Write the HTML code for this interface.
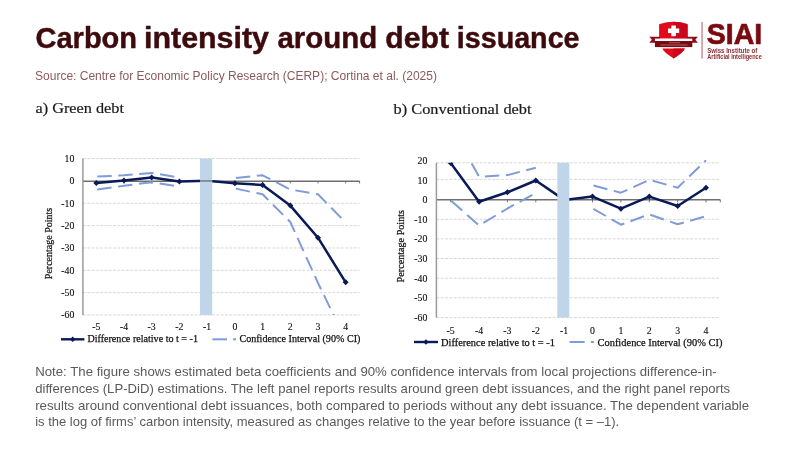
<!DOCTYPE html><html><head><meta charset="utf-8"><title>Carbon intensity around debt issuance</title><style>html,body{margin:0;padding:0;background:#fff;width:800px;height:450px;overflow:hidden}svg{display:block;will-change:transform}</style></head><body>
<svg width="800" height="450" viewBox="0 0 800 450">
<rect width="800" height="450" fill="#fff"/>
<text x="35.5" y="48" font-family='"Liberation Sans", sans-serif' font-weight="bold" font-size="30" fill="#3d0b0d" stroke="#3d0b0d" stroke-width="0.45" textLength="101.57" lengthAdjust="spacingAndGlyphs">Carbon</text>
<text x="144.0" y="48" font-family='"Liberation Sans", sans-serif' font-weight="bold" font-size="30" fill="#3d0b0d" stroke="#3d0b0d" stroke-width="0.45" textLength="125.01" lengthAdjust="spacingAndGlyphs">intensity</text>
<text x="277.5" y="48" font-family='"Liberation Sans", sans-serif' font-weight="bold" font-size="30" fill="#3d0b0d" stroke="#3d0b0d" stroke-width="0.45" textLength="99.78" lengthAdjust="spacingAndGlyphs">around</text>
<text x="385.25" y="48" font-family='"Liberation Sans", sans-serif' font-weight="bold" font-size="30" fill="#3d0b0d" stroke="#3d0b0d" stroke-width="0.45" textLength="63.77" lengthAdjust="spacingAndGlyphs">debt</text>
<text x="456.75" y="48" font-family='"Liberation Sans", sans-serif' font-weight="bold" font-size="30" fill="#3d0b0d" stroke="#3d0b0d" stroke-width="0.45" textLength="122.81" lengthAdjust="spacingAndGlyphs">issuance</text>
<text x="35" y="79.5" font-family='"Liberation Sans", sans-serif' font-size="12" fill="#8b5a5c" textLength="402" lengthAdjust="spacingAndGlyphs">Source: Centre for Economic Policy Research (CERP); Cortina et al. (2025)</text>
<text x="35.5" y="112.6" font-family='"Liberation Serif", serif' font-size="15.5" fill="#1a1a1a" stroke="#1a1a1a" stroke-width="0.2" textLength="88.4" lengthAdjust="spacingAndGlyphs">a) Green debt</text>
<text x="393.6" y="113.7" font-family='"Liberation Serif", serif' font-size="15.5" fill="#1a1a1a" stroke="#1a1a1a" stroke-width="0.2" textLength="138" lengthAdjust="spacingAndGlyphs">b) Conventional debt</text>
<clipPath id="ca"><rect x="82.9" y="150" width="276.70000000000005" height="164.98000000000002"/></clipPath>
<clipPath id="cam"><rect x="77.9" y="158.6" width="286.70000000000005" height="156.38000000000002"/></clipPath>
<line x1="82.9" y1="158.6" x2="359.6" y2="158.6" stroke="#d8d8d8" stroke-width="1" stroke-dasharray="3,1.3"/>
<line x1="82.9" y1="203.28" x2="359.6" y2="203.28" stroke="#d8d8d8" stroke-width="1" stroke-dasharray="3,1.3"/>
<line x1="82.9" y1="225.62" x2="359.6" y2="225.62" stroke="#d8d8d8" stroke-width="1" stroke-dasharray="3,1.3"/>
<line x1="82.9" y1="247.95999999999998" x2="359.6" y2="247.95999999999998" stroke="#d8d8d8" stroke-width="1" stroke-dasharray="3,1.3"/>
<line x1="82.9" y1="270.3" x2="359.6" y2="270.3" stroke="#d8d8d8" stroke-width="1" stroke-dasharray="3,1.3"/>
<line x1="82.9" y1="292.64" x2="359.6" y2="292.64" stroke="#d8d8d8" stroke-width="1" stroke-dasharray="3,1.3"/>
<line x1="82.9" y1="314.98" x2="359.6" y2="314.98" stroke="#d8d8d8" stroke-width="1" stroke-dasharray="3,1.3"/>
<line x1="82.9" y1="181.3" x2="359.6" y2="181.3" stroke="#6e6e6e" stroke-width="1.5"/>
<line x1="96.3" y1="180.94" x2="96.3" y2="183.44" stroke="#6e6e6e" stroke-width="1"/>
<line x1="124.0" y1="180.94" x2="124.0" y2="183.44" stroke="#6e6e6e" stroke-width="1"/>
<line x1="151.7" y1="180.94" x2="151.7" y2="183.44" stroke="#6e6e6e" stroke-width="1"/>
<line x1="179.4" y1="180.94" x2="179.4" y2="183.44" stroke="#6e6e6e" stroke-width="1"/>
<line x1="207.1" y1="180.94" x2="207.1" y2="183.44" stroke="#6e6e6e" stroke-width="1"/>
<line x1="234.9" y1="180.94" x2="234.9" y2="183.44" stroke="#6e6e6e" stroke-width="1"/>
<line x1="262.6" y1="180.94" x2="262.6" y2="183.44" stroke="#6e6e6e" stroke-width="1"/>
<line x1="290.3" y1="180.94" x2="290.3" y2="183.44" stroke="#6e6e6e" stroke-width="1"/>
<line x1="318.0" y1="180.94" x2="318.0" y2="183.44" stroke="#6e6e6e" stroke-width="1"/>
<line x1="345.7" y1="180.94" x2="345.7" y2="183.44" stroke="#6e6e6e" stroke-width="1"/>
<line x1="359.6" y1="180.94" x2="359.6" y2="183.44" stroke="#6e6e6e" stroke-width="1"/>
<polyline points="96.3,183.1 124.0,180.6 151.7,177.5 179.4,181.6 207.1,180.8 234.9,183.3 262.6,184.9 290.3,205.6 318.0,237.7 345.7,282.3" fill="none" stroke="#0a1a56" stroke-width="2.5" stroke-linejoin="round" clip-path="url(#ca)"/>
<polyline points="96.3,176.6 124.0,175.3 151.7,173.0 179.4,177.5" fill="none" stroke="#7f9bd8" stroke-width="2" stroke-linejoin="round" stroke-dasharray="14.4,6.6" stroke-dashoffset="-1" clip-path="url(#ca)"/>
<polyline points="234.9,178.0 262.6,175.3 290.3,189.5 318.0,194.3 345.7,222.5" fill="none" stroke="#7f9bd8" stroke-width="2" stroke-linejoin="round" stroke-dasharray="14.4,6.6" stroke-dashoffset="-1" clip-path="url(#ca)"/>
<polyline points="96.3,189.7 124.0,185.8 151.7,182.2 179.4,186.5" fill="none" stroke="#7f9bd8" stroke-width="2" stroke-linejoin="round" stroke-dasharray="14.4,6.6" stroke-dashoffset="-1" clip-path="url(#ca)"/>
<polyline points="234.9,188.4 262.6,194.3 290.3,222.0 318.0,283.0 345.7,340.0" fill="none" stroke="#7f9bd8" stroke-width="2" stroke-linejoin="round" stroke-dasharray="14.4,6.6" stroke-dashoffset="-1" clip-path="url(#ca)"/>
<g clip-path="url(#cam)"><path d="M96.3,180.1 L99.3,183.1 L96.3,186.1 L93.3,183.1Z" fill="#0a1a56"/></g>
<g clip-path="url(#cam)"><path d="M124.0,177.6 L127.0,180.6 L124.0,183.6 L121.0,180.6Z" fill="#0a1a56"/></g>
<g clip-path="url(#cam)"><path d="M151.7,174.5 L154.7,177.5 L151.7,180.5 L148.7,177.5Z" fill="#0a1a56"/></g>
<g clip-path="url(#cam)"><path d="M179.4,178.6 L182.4,181.6 L179.4,184.6 L176.4,181.6Z" fill="#0a1a56"/></g>
<g clip-path="url(#cam)"><path d="M207.1,177.8 L210.1,180.8 L207.1,183.8 L204.1,180.8Z" fill="#0a1a56"/></g>
<g clip-path="url(#cam)"><path d="M234.9,180.3 L237.9,183.3 L234.9,186.3 L231.9,183.3Z" fill="#0a1a56"/></g>
<g clip-path="url(#cam)"><path d="M262.6,181.9 L265.6,184.9 L262.6,187.9 L259.6,184.9Z" fill="#0a1a56"/></g>
<g clip-path="url(#cam)"><path d="M290.3,202.6 L293.3,205.6 L290.3,208.6 L287.3,205.6Z" fill="#0a1a56"/></g>
<g clip-path="url(#cam)"><path d="M318.0,234.7 L321.0,237.7 L318.0,240.7 L315.0,237.7Z" fill="#0a1a56"/></g>
<g clip-path="url(#cam)"><path d="M345.7,279.3 L348.7,282.3 L345.7,285.3 L342.7,282.3Z" fill="#0a1a56"/></g>
<rect x="200" y="158.6" width="12.199999999999989" height="156.38000000000002" fill="#c0d5ea"/>
<line x1="200" y1="180.94" x2="212.2" y2="180.94" stroke="#7d8893" stroke-width="1.8"/>
<line x1="82.9" y1="158.6" x2="82.9" y2="314.98" stroke="#9a9a9a" stroke-width="1.5"/>
<text x="74.4" y="161.9" text-anchor="end" font-family='"Liberation Serif", serif' font-size="9.8" fill="#111111" stroke="#111111" stroke-width="0.12">10</text>
<text x="74.4" y="184.2" text-anchor="end" font-family='"Liberation Serif", serif' font-size="9.8" fill="#111111" stroke="#111111" stroke-width="0.12">0</text>
<text x="74.4" y="206.6" text-anchor="end" font-family='"Liberation Serif", serif' font-size="9.8" fill="#111111" stroke="#111111" stroke-width="0.12">-10</text>
<text x="74.4" y="228.9" text-anchor="end" font-family='"Liberation Serif", serif' font-size="9.8" fill="#111111" stroke="#111111" stroke-width="0.12">-20</text>
<text x="74.4" y="251.3" text-anchor="end" font-family='"Liberation Serif", serif' font-size="9.8" fill="#111111" stroke="#111111" stroke-width="0.12">-30</text>
<text x="74.4" y="273.6" text-anchor="end" font-family='"Liberation Serif", serif' font-size="9.8" fill="#111111" stroke="#111111" stroke-width="0.12">-40</text>
<text x="74.4" y="295.9" text-anchor="end" font-family='"Liberation Serif", serif' font-size="9.8" fill="#111111" stroke="#111111" stroke-width="0.12">-50</text>
<text x="74.4" y="318.3" text-anchor="end" font-family='"Liberation Serif", serif' font-size="9.8" fill="#111111" stroke="#111111" stroke-width="0.12">-60</text>
<text x="96.3" y="330.2" text-anchor="middle" font-family='"Liberation Serif", serif' font-size="9.8" fill="#111111" stroke="#111111" stroke-width="0.12">-5</text>
<text x="124.0" y="330.2" text-anchor="middle" font-family='"Liberation Serif", serif' font-size="9.8" fill="#111111" stroke="#111111" stroke-width="0.12">-4</text>
<text x="151.7" y="330.2" text-anchor="middle" font-family='"Liberation Serif", serif' font-size="9.8" fill="#111111" stroke="#111111" stroke-width="0.12">-3</text>
<text x="179.4" y="330.2" text-anchor="middle" font-family='"Liberation Serif", serif' font-size="9.8" fill="#111111" stroke="#111111" stroke-width="0.12">-2</text>
<text x="207.1" y="330.2" text-anchor="middle" font-family='"Liberation Serif", serif' font-size="9.8" fill="#111111" stroke="#111111" stroke-width="0.12">-1</text>
<text x="234.9" y="330.2" text-anchor="middle" font-family='"Liberation Serif", serif' font-size="9.8" fill="#111111" stroke="#111111" stroke-width="0.12">0</text>
<text x="262.6" y="330.2" text-anchor="middle" font-family='"Liberation Serif", serif' font-size="9.8" fill="#111111" stroke="#111111" stroke-width="0.12">1</text>
<text x="290.3" y="330.2" text-anchor="middle" font-family='"Liberation Serif", serif' font-size="9.8" fill="#111111" stroke="#111111" stroke-width="0.12">2</text>
<text x="318.0" y="330.2" text-anchor="middle" font-family='"Liberation Serif", serif' font-size="9.8" fill="#111111" stroke="#111111" stroke-width="0.12">3</text>
<text x="345.7" y="330.2" text-anchor="middle" font-family='"Liberation Serif", serif' font-size="9.8" fill="#111111" stroke="#111111" stroke-width="0.12">4</text>
<text transform="translate(52.3,243.5) rotate(-90)" text-anchor="middle" font-family='"Liberation Serif", serif' font-size="10.8" fill="#111111" stroke="#111111" stroke-width="0.25" textLength="71.4" lengthAdjust="spacingAndGlyphs">Percentage Points</text>
<line x1="61" y1="339.3" x2="84.4" y2="339.3" stroke="#0a1a56" stroke-width="2.4"/>
<path d="M72.7,336.5 L75.5,339.3 L72.7,342.1 L69.9,339.3Z" fill="#0a1a56"/>
<text x="87.4" y="342.3" font-family='"Liberation Serif", serif' font-size="11" fill="#111111" stroke="#111111" stroke-width="0.25" textLength="110.6" lengthAdjust="spacingAndGlyphs">Difference relative to t = -1</text>
<line x1="212.4" y1="339.3" x2="227.0" y2="339.3" stroke="#7f9bd8" stroke-width="2"/>
<line x1="233.0" y1="339.3" x2="236.0" y2="339.3" stroke="#7f9bd8" stroke-width="2"/>
<text x="239.4" y="342.3" font-family='"Liberation Serif", serif' font-size="11" fill="#111111" stroke="#111111" stroke-width="0.25" textLength="121" lengthAdjust="spacingAndGlyphs">Confidence Interval (90% CI)</text>
<clipPath id="cb"><rect x="436.4" y="159.5" width="283.9" height="158.10000000000002"/></clipPath>
<clipPath id="cbm"><rect x="431.4" y="162.8" width="293.9" height="154.8"/></clipPath>
<line x1="436.4" y1="162.8" x2="720.3" y2="162.8" stroke="#d8d8d8" stroke-width="1" stroke-dasharray="3,1.3"/>
<line x1="436.4" y1="179.4" x2="720.3" y2="179.4" stroke="#d8d8d8" stroke-width="1" stroke-dasharray="3,1.3"/>
<line x1="436.4" y1="219.3" x2="720.3" y2="219.3" stroke="#d8d8d8" stroke-width="1" stroke-dasharray="3,1.3"/>
<line x1="436.4" y1="238.9" x2="720.3" y2="238.9" stroke="#d8d8d8" stroke-width="1" stroke-dasharray="3,1.3"/>
<line x1="436.4" y1="258.5" x2="720.3" y2="258.5" stroke="#d8d8d8" stroke-width="1" stroke-dasharray="3,1.3"/>
<line x1="436.4" y1="278.2" x2="720.3" y2="278.2" stroke="#d8d8d8" stroke-width="1" stroke-dasharray="3,1.3"/>
<line x1="436.4" y1="297.8" x2="720.3" y2="297.8" stroke="#d8d8d8" stroke-width="1" stroke-dasharray="3,1.3"/>
<line x1="436.4" y1="317.6" x2="720.3" y2="317.6" stroke="#d8d8d8" stroke-width="1" stroke-dasharray="3,1.3"/>
<line x1="436.4" y1="199.8" x2="720.3" y2="199.8" stroke="#6e6e6e" stroke-width="1.5"/>
<line x1="450.7" y1="199.8" x2="450.7" y2="202.3" stroke="#6e6e6e" stroke-width="1"/>
<line x1="479.1" y1="199.8" x2="479.1" y2="202.3" stroke="#6e6e6e" stroke-width="1"/>
<line x1="507.4" y1="199.8" x2="507.4" y2="202.3" stroke="#6e6e6e" stroke-width="1"/>
<line x1="535.8" y1="199.8" x2="535.8" y2="202.3" stroke="#6e6e6e" stroke-width="1"/>
<line x1="564.2" y1="199.8" x2="564.2" y2="202.3" stroke="#6e6e6e" stroke-width="1"/>
<line x1="592.5" y1="199.8" x2="592.5" y2="202.3" stroke="#6e6e6e" stroke-width="1"/>
<line x1="620.9" y1="199.8" x2="620.9" y2="202.3" stroke="#6e6e6e" stroke-width="1"/>
<line x1="649.3" y1="199.8" x2="649.3" y2="202.3" stroke="#6e6e6e" stroke-width="1"/>
<line x1="677.7" y1="199.8" x2="677.7" y2="202.3" stroke="#6e6e6e" stroke-width="1"/>
<line x1="706.0" y1="199.8" x2="706.0" y2="202.3" stroke="#6e6e6e" stroke-width="1"/>
<line x1="720.3" y1="199.8" x2="720.3" y2="202.3" stroke="#6e6e6e" stroke-width="1"/>
<polyline points="450.7,163.0 479.1,201.7 507.4,192.3 535.8,180.5 564.2,199.9 592.5,196.6 620.9,208.7 649.3,196.6 677.7,206.0 706.0,187.7" fill="none" stroke="#0a1a56" stroke-width="2.5" stroke-linejoin="round" clip-path="url(#cb)"/>
<polyline points="450.7,126.0 479.1,176.8 507.4,175.1 535.8,167.8" fill="none" stroke="#7f9bd8" stroke-width="2" stroke-linejoin="round" stroke-dasharray="14.4,6.6" stroke-dashoffset="-1" clip-path="url(#cb)"/>
<polyline points="592.5,185.3 620.9,192.7 649.3,179.9 677.7,187.7 706.0,160.3" fill="none" stroke="#7f9bd8" stroke-width="2" stroke-linejoin="round" stroke-dasharray="14.4,6.6" stroke-dashoffset="-1" clip-path="url(#cb)"/>
<polyline points="450.7,200.3 479.1,225.5 507.4,208.5 535.8,193.0" fill="none" stroke="#7f9bd8" stroke-width="2" stroke-linejoin="round" stroke-dasharray="14.4,6.6" stroke-dashoffset="-1" clip-path="url(#cb)"/>
<polyline points="592.5,208.3 620.9,224.7 649.3,214.4 677.7,224.3 706.0,216.1" fill="none" stroke="#7f9bd8" stroke-width="2" stroke-linejoin="round" stroke-dasharray="14.4,6.6" stroke-dashoffset="-1" clip-path="url(#cb)"/>
<g clip-path="url(#cbm)"><path d="M450.7,160.0 L453.7,163.0 L450.7,166.0 L447.7,163.0Z" fill="#0a1a56"/></g>
<g clip-path="url(#cbm)"><path d="M479.1,198.7 L482.1,201.7 L479.1,204.7 L476.1,201.7Z" fill="#0a1a56"/></g>
<g clip-path="url(#cbm)"><path d="M507.4,189.3 L510.4,192.3 L507.4,195.3 L504.4,192.3Z" fill="#0a1a56"/></g>
<g clip-path="url(#cbm)"><path d="M535.8,177.5 L538.8,180.5 L535.8,183.5 L532.8,180.5Z" fill="#0a1a56"/></g>
<g clip-path="url(#cbm)"><path d="M564.2,196.9 L567.2,199.9 L564.2,202.9 L561.2,199.9Z" fill="#0a1a56"/></g>
<g clip-path="url(#cbm)"><path d="M592.5,193.6 L595.5,196.6 L592.5,199.6 L589.5,196.6Z" fill="#0a1a56"/></g>
<g clip-path="url(#cbm)"><path d="M620.9,205.7 L623.9,208.7 L620.9,211.7 L617.9,208.7Z" fill="#0a1a56"/></g>
<g clip-path="url(#cbm)"><path d="M649.3,193.6 L652.3,196.6 L649.3,199.6 L646.3,196.6Z" fill="#0a1a56"/></g>
<g clip-path="url(#cbm)"><path d="M677.7,203.0 L680.7,206.0 L677.7,209.0 L674.7,206.0Z" fill="#0a1a56"/></g>
<g clip-path="url(#cbm)"><path d="M706.0,184.7 L709.0,187.7 L706.0,190.7 L703.0,187.7Z" fill="#0a1a56"/></g>
<rect x="557.3" y="162.8" width="12.0" height="154.8" fill="#c0d5ea"/>
<line x1="436.4" y1="162.8" x2="436.4" y2="317.6" stroke="#9a9a9a" stroke-width="1.5"/>
<text x="427.3" y="163.8" text-anchor="end" font-family='"Liberation Serif", serif' font-size="9.8" fill="#111111" stroke="#111111" stroke-width="0.12">20</text>
<text x="427.3" y="183.5" text-anchor="end" font-family='"Liberation Serif", serif' font-size="9.8" fill="#111111" stroke="#111111" stroke-width="0.12">10</text>
<text x="427.3" y="203.1" text-anchor="end" font-family='"Liberation Serif", serif' font-size="9.8" fill="#111111" stroke="#111111" stroke-width="0.12">0</text>
<text x="427.3" y="222.7" text-anchor="end" font-family='"Liberation Serif", serif' font-size="9.8" fill="#111111" stroke="#111111" stroke-width="0.12">-10</text>
<text x="427.3" y="242.4" text-anchor="end" font-family='"Liberation Serif", serif' font-size="9.8" fill="#111111" stroke="#111111" stroke-width="0.12">-20</text>
<text x="427.3" y="262.0" text-anchor="end" font-family='"Liberation Serif", serif' font-size="9.8" fill="#111111" stroke="#111111" stroke-width="0.12">-30</text>
<text x="427.3" y="281.6" text-anchor="end" font-family='"Liberation Serif", serif' font-size="9.8" fill="#111111" stroke="#111111" stroke-width="0.12">-40</text>
<text x="427.3" y="301.2" text-anchor="end" font-family='"Liberation Serif", serif' font-size="9.8" fill="#111111" stroke="#111111" stroke-width="0.12">-50</text>
<text x="427.3" y="320.9" text-anchor="end" font-family='"Liberation Serif", serif' font-size="9.8" fill="#111111" stroke="#111111" stroke-width="0.12">-60</text>
<text x="450.7" y="333.9" text-anchor="middle" font-family='"Liberation Serif", serif' font-size="9.8" fill="#111111" stroke="#111111" stroke-width="0.12">-5</text>
<text x="479.1" y="333.9" text-anchor="middle" font-family='"Liberation Serif", serif' font-size="9.8" fill="#111111" stroke="#111111" stroke-width="0.12">-4</text>
<text x="507.4" y="333.9" text-anchor="middle" font-family='"Liberation Serif", serif' font-size="9.8" fill="#111111" stroke="#111111" stroke-width="0.12">-3</text>
<text x="535.8" y="333.9" text-anchor="middle" font-family='"Liberation Serif", serif' font-size="9.8" fill="#111111" stroke="#111111" stroke-width="0.12">-2</text>
<text x="564.2" y="333.9" text-anchor="middle" font-family='"Liberation Serif", serif' font-size="9.8" fill="#111111" stroke="#111111" stroke-width="0.12">-1</text>
<text x="592.5" y="333.9" text-anchor="middle" font-family='"Liberation Serif", serif' font-size="9.8" fill="#111111" stroke="#111111" stroke-width="0.12">0</text>
<text x="620.9" y="333.9" text-anchor="middle" font-family='"Liberation Serif", serif' font-size="9.8" fill="#111111" stroke="#111111" stroke-width="0.12">1</text>
<text x="649.3" y="333.9" text-anchor="middle" font-family='"Liberation Serif", serif' font-size="9.8" fill="#111111" stroke="#111111" stroke-width="0.12">2</text>
<text x="677.7" y="333.9" text-anchor="middle" font-family='"Liberation Serif", serif' font-size="9.8" fill="#111111" stroke="#111111" stroke-width="0.12">3</text>
<text x="706.0" y="333.9" text-anchor="middle" font-family='"Liberation Serif", serif' font-size="9.8" fill="#111111" stroke="#111111" stroke-width="0.12">4</text>
<text transform="translate(403.5,246.2) rotate(-90)" text-anchor="middle" font-family='"Liberation Serif", serif' font-size="10.8" fill="#111111" stroke="#111111" stroke-width="0.25" textLength="72.4" lengthAdjust="spacingAndGlyphs">Percentage Points</text>
<line x1="414" y1="342" x2="438" y2="342" stroke="#0a1a56" stroke-width="2.4"/>
<path d="M426.0,339.2 L428.8,342.0 L426.0,344.8 L423.2,342.0Z" fill="#0a1a56"/>
<text x="441" y="345.5" font-family='"Liberation Serif", serif' font-size="11" fill="#111111" stroke="#111111" stroke-width="0.25" textLength="114" lengthAdjust="spacingAndGlyphs">Difference relative to t = -1</text>
<line x1="569.6" y1="342" x2="584.6826446280992" y2="342" stroke="#7f9bd8" stroke-width="2"/>
<line x1="590.8809917355372" y1="342" x2="593.9801652892562" y2="342" stroke="#7f9bd8" stroke-width="2"/>
<text x="597.4925619834711" y="345.5" font-family='"Liberation Serif", serif' font-size="11" fill="#111111" stroke="#111111" stroke-width="0.25" textLength="125" lengthAdjust="spacingAndGlyphs">Confidence Interval (90% CI)</text>
<text x="35.2" y="375.9" font-family='"Liberation Sans", sans-serif' font-size="12.8" fill="#5a5a5a" textLength="681.5" lengthAdjust="spacingAndGlyphs">Note: The figure shows estimated beta coefficients and 90% confidence intervals from local projections difference-in-</text>
<text x="35.2" y="392.7" font-family='"Liberation Sans", sans-serif' font-size="12.8" fill="#5a5a5a" textLength="695" lengthAdjust="spacingAndGlyphs">differences (LP-DiD) estimations. The left panel reports results around green debt issuances, and the right panel reports</text>
<text x="35.2" y="409.5" font-family='"Liberation Sans", sans-serif' font-size="12.8" fill="#5a5a5a" textLength="714" lengthAdjust="spacingAndGlyphs">results around conventional debt issuances, both compared to periods without any debt issuance. The dependent variable</text>
<text x="35.2" y="426.1" font-family='"Liberation Sans", sans-serif' font-size="12.8" fill="#5a5a5a" textLength="584" lengthAdjust="spacingAndGlyphs">is the log of firms’ carbon intensity, measured as changes relative to the year before issuance (t = –1).</text>
<defs><clipPath id="rh"><rect x="673.6" y="0" width="40" height="70"/></clipPath></defs>
<g>
<path d="M659.1,38.7 L659.1,24.8 Q659.1,24.2 659.8,24 Q673.6,19.6 686.9,24 Q687.6,24.2 687.6,24.8 L687.6,38.7 Z" fill="#e10a1c"/>
<path d="M659.1,38.7 L659.1,24.8 Q659.1,24.2 659.8,24 Q673.6,19.6 686.9,24 Q687.6,24.2 687.6,24.8 L687.6,38.7 Z" fill="#c9061a" clip-path="url(#rh)"/>
<rect x="671.3" y="25.5" width="4.6" height="10.7" fill="#fff"/>
<rect x="668" y="28.5" width="11.2" height="4.6" fill="#fff"/>
<path d="M649.3,36.7 L660,36.7 L660,42.8 L649.3,42.8 L651.9,39.75 Z" fill="#8a0c15"/>
<path d="M697.9,36.7 L687,36.7 L687,42.8 L697.9,42.8 L695.3,39.75 Z" fill="#8a0c15"/>
<rect x="654.9" y="38.6" width="37.4" height="2.4" fill="#fff"/>
<rect x="654.9" y="41" width="37.4" height="6.1" fill="#7c0a12"/>
<rect x="669" y="42.4" width="11" height="0.8" fill="#fff" opacity="0.4"/>
<rect x="660.5" y="44.6" width="27" height="0.8" fill="#fff" opacity="0.45"/>
<path d="M662.4,48.4 L684.8,48.4 Q684.2,51.5 673.6,58.4 Q663,51.5 662.4,48.4 Z" fill="#e10a1c"/>
<path d="M662.4,48.4 L684.8,48.4 Q684.2,51.5 673.6,58.4 Q663,51.5 662.4,48.4 Z" fill="#c9061a" clip-path="url(#rh)"/>
<rect x="701.5" y="21.9" width="1.1" height="36.7" fill="#b86a6e"/>
</g>
<text x="706.8" y="43.8" font-family='"Liberation Sans", sans-serif' font-weight="bold" font-size="30.4" fill="#7a0a10" stroke="#7a0a10" stroke-width="0.7" textLength="55.5" lengthAdjust="spacingAndGlyphs">SIAI</text>
<text x="707.3" y="52.6" font-family='"Liberation Sans", sans-serif' font-weight="bold" font-size="7.3" fill="#8d2a30" textLength="49.9" lengthAdjust="spacingAndGlyphs">Swiss Institute of</text>
<text x="707.3" y="58.6" font-family='"Liberation Sans", sans-serif' font-weight="bold" font-size="7.3" fill="#8d2a30" textLength="54.5" lengthAdjust="spacingAndGlyphs">Artificial Intelligence</text>
</svg></body></html>
